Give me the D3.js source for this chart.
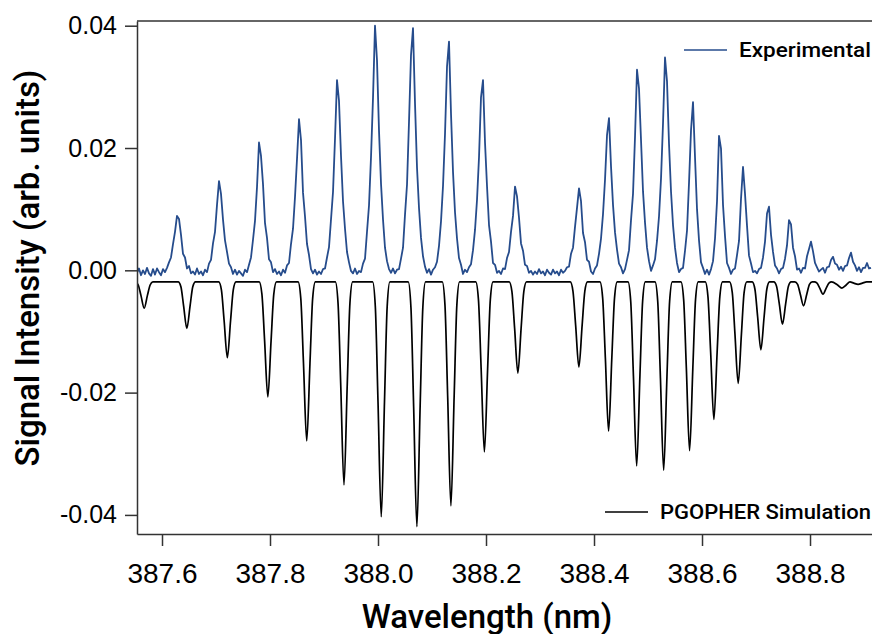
<!DOCTYPE html>
<html>
<head>
<meta charset="utf-8">
<script src="https://cdn.jsdelivr.net/npm/d3@7"></script>
<style>
body{margin:0;background:#fff;}
svg{display:block;font-family:Roboto,"DejaVu Sans",sans-serif;}
.axis path,.axis line{stroke:#333;stroke-width:1.5;}
.axis text{fill:#000;font-weight:500;}
</style>
</head>
<body>
<svg width="872" height="634"></svg>
<script>

// experimental trace: one value every expStep nm starting at expStart
var expStart=387.5537, expStep=0.0037037;
var expIntensity=[
-0.0004,0.0003,-0.0008,0.0000,-0.0006,0.0004,-0.0005,-0.0009,0.0002,-0.0007,0.0003,-0.0003,-0.0008,0.0002,-0.0003,0.0004,
0.0013,0.0021,0.0043,0.0063,0.0089,0.0084,0.0058,0.0027,0.0021,0.0003,0.0007,-0.0005,-0.0002,-0.0007,0.0003,-0.0006,
-0.0002,-0.0008,0.0001,-0.0003,0.0011,0.0017,0.0044,0.0063,0.0107,0.0146,0.0125,0.0083,0.0049,0.0030,0.0011,0.0005,
-0.0006,0.0001,-0.0007,-0.0001,-0.0005,-0.0009,0.0001,-0.0003,0.0009,0.0021,0.0050,0.0081,0.0136,0.0209,0.0187,0.0141,
0.0077,0.0053,0.0018,0.0013,-0.0003,0.0002,-0.0006,-0.0002,-0.0008,0.0001,-0.0004,0.0008,0.0012,0.0043,0.0068,0.0120,
0.0182,0.0247,0.0213,0.0127,0.0088,0.0043,0.0025,0.0002,-0.0005,0.0001,-0.0007,-0.0002,-0.0006,0.0002,0.0003,0.0021,
0.0038,0.0083,0.0128,0.0215,0.0311,0.0277,0.0187,0.0113,0.0068,0.0030,0.0013,-0.0001,-0.0005,0.0003,-0.0006,-0.0001,
-0.0003,0.0011,0.0019,0.0063,0.0106,0.0185,0.0282,0.0400,0.0343,0.0228,0.0142,0.0083,0.0037,0.0015,0.0002,-0.0004,
0.0003,-0.0005,0.0001,0.0002,0.0019,0.0037,0.0091,0.0140,0.0243,0.0352,0.0396,0.0273,0.0168,0.0102,0.0053,0.0023,
0.0006,-0.0004,0.0002,-0.0007,0.0001,0.0005,0.0014,0.0040,0.0080,0.0138,0.0223,0.0333,0.0374,0.0256,0.0161,0.0095,
0.0052,0.0020,0.0009,-0.0006,0.0001,-0.0003,0.0005,0.0010,0.0033,0.0066,0.0115,0.0185,0.0283,0.0311,0.0209,0.0138,
0.0074,0.0047,0.0012,0.0009,-0.0004,-0.0001,-0.0006,0.0003,0.0002,0.0020,0.0030,0.0063,0.0089,0.0137,0.0121,0.0086,
0.0044,0.0032,0.0009,0.0007,-0.0004,-0.0001,-0.0007,-0.0002,-0.0006,0.0002,-0.0005,-0.0002,-0.0008,0.0001,-0.0004,-0.0007,
0.0001,-0.0005,-0.0002,-0.0008,0.0001,-0.0004,-0.0001,0.0005,0.0006,0.0027,0.0037,0.0071,0.0102,0.0134,0.0113,0.0061,
0.0046,0.0017,0.0014,-0.0002,-0.0006,0.0003,0.0008,0.0027,0.0052,0.0092,0.0148,0.0221,0.0249,0.0170,0.0107,0.0062,
0.0034,0.0011,0.0005,-0.0005,0.0002,0.0017,0.0033,0.0082,0.0125,0.0218,0.0328,0.0297,0.0213,0.0129,0.0078,0.0037,
0.0015,-0.0001,0.0008,0.0018,0.0048,0.0088,0.0150,0.0240,0.0348,0.0309,0.0207,0.0129,0.0074,0.0037,0.0012,-0.0003,
0.0002,0.0004,0.0032,0.0065,0.0143,0.0229,0.0275,0.0185,0.0100,0.0049,0.0013,0.0004,-0.0006,0.0001,-0.0007,0.0002,
0.0015,0.0052,0.0113,0.0220,0.0199,0.0107,0.0056,0.0012,0.0004,-0.0006,0.0001,0.0003,0.0025,0.0048,0.0117,0.0169,
0.0125,0.0073,0.0024,0.0011,-0.0003,-0.0001,-0.0005,0.0002,0.0004,0.0021,0.0047,0.0093,0.0104,0.0058,0.0030,0.0008,
0.0003,-0.0005,0.0002,0.0004,0.0019,0.0041,0.0082,0.0075,0.0037,0.0023,0.0001,0.0003,-0.0004,0.0004,0.0003,0.0023,
0.0035,0.0047,0.0031,0.0012,0.0005,-0.0002,0.0001,0.0004,-0.0004,0.0005,0.0006,0.0017,0.0022,0.0011,0.0009,0.0001,
0.0006,-0.0001,0.0007,0.0008,0.0020,0.0029,0.0014,0.0008,-0.0001,0.0005,-0.0003,0.0004,0.0004,0.0012,0.0003,0.0004
];

// PGOPHER simulation, [wavelength nm, intensity]
var simPoints=[
[387.551,-0.0019],[387.556,-0.0024],[387.561,-0.0041],[387.567,-0.0062],[387.573,-0.0041],[387.578,-0.0024],[387.583,-0.0019],
[387.630,-0.0019],[387.635,-0.0027],[387.640,-0.0058],[387.646,-0.0095],[387.652,-0.0058],[387.657,-0.0027],[387.662,-0.0019],
[387.705,-0.0019],[387.710,-0.0032],[387.715,-0.0082],[387.721,-0.0143],[387.727,-0.0082],[387.732,-0.0032],[387.737,-0.0019],
[387.780,-0.0019],[387.785,-0.0039],[387.790,-0.0115],[387.796,-0.0207],[387.802,-0.0115],[387.807,-0.0039],[387.812,-0.0019],
[387.852,-0.0019],[387.857,-0.0046],[387.862,-0.0152],[387.868,-0.0279],[387.874,-0.0152],[387.879,-0.0046],[387.884,-0.0019],
[387.921,-0.0019],[387.926,-0.0054],[387.931,-0.0188],[387.937,-0.0351],[387.943,-0.0188],[387.948,-0.0054],[387.953,-0.0019],
[387.990,-0.0019],[387.995,-0.0059],[388.000,-0.0215],[388.006,-0.0403],[388.012,-0.0215],[388.017,-0.0059],[388.022,-0.0019],
[388.056,-0.0019],[388.061,-0.0061],[388.066,-0.0223],[388.072,-0.0419],[388.078,-0.0223],[388.083,-0.0061],[388.088,-0.0019],
[388.119,-0.0019],[388.124,-0.0057],[388.129,-0.0206],[388.135,-0.0385],[388.141,-0.0206],[388.146,-0.0057],[388.151,-0.0019],
[388.181,-0.0019],[388.186,-0.0048],[388.191,-0.0161],[388.197,-0.0297],[388.203,-0.0161],[388.208,-0.0048],[388.213,-0.0019],
[388.243,-0.0019],[388.248,-0.0035],[388.253,-0.0095],[388.259,-0.0168],[388.265,-0.0095],[388.270,-0.0035],[388.275,-0.0019],
[388.356,-0.0019],[388.361,-0.0034],[388.366,-0.0090],[388.372,-0.0158],[388.378,-0.0090],[388.383,-0.0034],[388.388,-0.0019],
[388.411,-0.0019],[388.416,-0.0045],[388.421,-0.0143],[388.427,-0.0263],[388.433,-0.0143],[388.438,-0.0045],[388.443,-0.0019],
[388.463,-0.0019],[388.468,-0.0051],[388.473,-0.0173],[388.479,-0.0320],[388.485,-0.0173],[388.490,-0.0051],[388.495,-0.0019],
[388.513,-0.0019],[388.518,-0.0051],[388.523,-0.0176],[388.529,-0.0327],[388.535,-0.0176],[388.540,-0.0051],[388.545,-0.0019],
[388.561,-0.0019],[388.566,-0.0048],[388.571,-0.0160],[388.577,-0.0295],[388.583,-0.0160],[388.588,-0.0048],[388.593,-0.0019],
[388.606,-0.0019],[388.611,-0.0043],[388.616,-0.0134],[388.622,-0.0244],[388.628,-0.0134],[388.633,-0.0043],[388.638,-0.0019],
[388.651,-0.0019],[388.656,-0.0036],[388.661,-0.0104],[388.667,-0.0185],[388.673,-0.0104],[388.678,-0.0036],[388.683,-0.0019],
[388.693,-0.0019],[388.698,-0.0031],[388.703,-0.0076],[388.709,-0.0130],[388.715,-0.0076],[388.720,-0.0031],[388.725,-0.0019],
[388.733,-0.0019],[388.738,-0.0026],[388.743,-0.0054],[388.749,-0.0088],[388.755,-0.0054],[388.760,-0.0026],[388.765,-0.0019],
[388.772,-0.0019],[388.777,-0.0023],[388.782,-0.0039],[388.788,-0.0058],[388.794,-0.0039],[388.799,-0.0023],[388.804,-0.0019],
[388.808,-0.0019],[388.813,-0.0021],[388.818,-0.0029],[388.824,-0.0039],[388.830,-0.0029],[388.835,-0.0021],[388.840,-0.0019],
[388.851,-0.0024],[388.859,-0.0029],[388.867,-0.0024],[388.874,-0.0019],[388.881,-0.0021],[388.889,-0.0023],[388.897,-0.0021],
[388.905,-0.0019],[388.920,-0.0019]
];

var xTicks=[387.6,387.8,388.0,388.2,388.4,388.6,388.8];
var yTicks=[-0.04,-0.02,0.00,0.02,0.04];
var xDomain=[387.5537,388.9296];
var yDomain=[-0.04312,0.04077];
var seriesNames=["Experimental","PGOPHER Simulation"];
var seriesColors=["#264c8c","#000000"];


var svg=d3.select("svg"),
    margin={top:21,left:137},
    width=743,
    height=513;

var x=d3.scaleLinear().domain(xDomain).range([0,width]),
    y=d3.scaleLinear().domain(yDomain).range([height,0]);

var g=svg.append("g").attr("transform","translate("+margin.left+","+margin.top+")");

g.append("clipPath").attr("id","plotclip")
  .append("rect").attr("width",width).attr("height",height);

var expData=expIntensity.map(function(v,i){ return [expStart+i*expStep,v]; });

var line=d3.line()
  .x(function(d){ return x(d[0]); })
  .y(function(d){ return y(d[1]); });

var simLine=d3.line()
  .curve(d3.curveMonotoneX)
  .x(function(d){ return x(d[0]); })
  .y(function(d){ return y(d[1]); });

//simulation under, experiment on top
g.append("path")
  .datum(simPoints)
  .attr("clip-path","url(#plotclip)")
  .attr("fill","none")
  .attr("stroke",seriesColors[1])
  .attr("stroke-width",1.7)
  .attr("d",simLine);

g.append("path")
  .datum(expData)
  .attr("clip-path","url(#plotclip)")
  .attr("fill","none")
  .attr("stroke",seriesColors[0])
  .attr("stroke-width",1.8)
  .attr("stroke-linejoin","round")
  .attr("d",line);

// frame top line
g.append("line")
  .attr("x1",0).attr("x2",width).attr("y1",0).attr("y2",0)
  .attr("stroke","#333").attr("stroke-width",1.5);

var xAxis=g.append("g")
  .attr("class","axis")
  .attr("transform","translate(0,"+height+")")
  .call(d3.axisBottom(x).tickValues(xTicks).tickSize(12).tickSizeOuter(0)
    .tickFormat(function(d){ return d.toFixed(1); }));
xAxis.selectAll("text").attr("y",49).attr("dy",null).style("font-size","28px");

var yAxis=g.append("g")
  .attr("class","axis")
  .call(d3.axisLeft(y).tickValues(yTicks).tickSize(12).tickSizeOuter(0)
    .tickFormat(function(d){ return d.toFixed(2); }));
yAxis.selectAll("text").attr("x",-20).style("font-size","25px");

svg.append("text")
  .attr("transform","translate(39,268) rotate(-90)")
  .attr("text-anchor","middle")
  .style("font-size","33px")
  .style("font-weight",500)
  .text("Signal Intensity (arb. units)");

svg.append("text")
  .attr("x",487).attr("y",628)
  .attr("text-anchor","middle")
  .style("font-size","33px")
  .style("font-weight",500)
  .text("Wavelength (nm)");

// legend
var legendPos=[{lx:684,ly:50,tx:739,ty:57,len:132},{lx:605,ly:512,tx:660,ty:519,len:211}];
legendPos.forEach(function(p,i){
  svg.append("line")
    .attr("x1",p.lx).attr("x2",p.lx+43).attr("y1",p.ly).attr("y2",p.ly)
    .attr("stroke",seriesColors[i]).attr("stroke-width",1.5);
  svg.append("text")
    .attr("x",p.tx).attr("y",p.ty)
    .attr("textLength",p.len).attr("lengthAdjust","spacingAndGlyphs")
    .style("font-size","21px")
    .style("font-weight",500)
    .text(seriesNames[i]);
});

</script>
</body>
</html>
